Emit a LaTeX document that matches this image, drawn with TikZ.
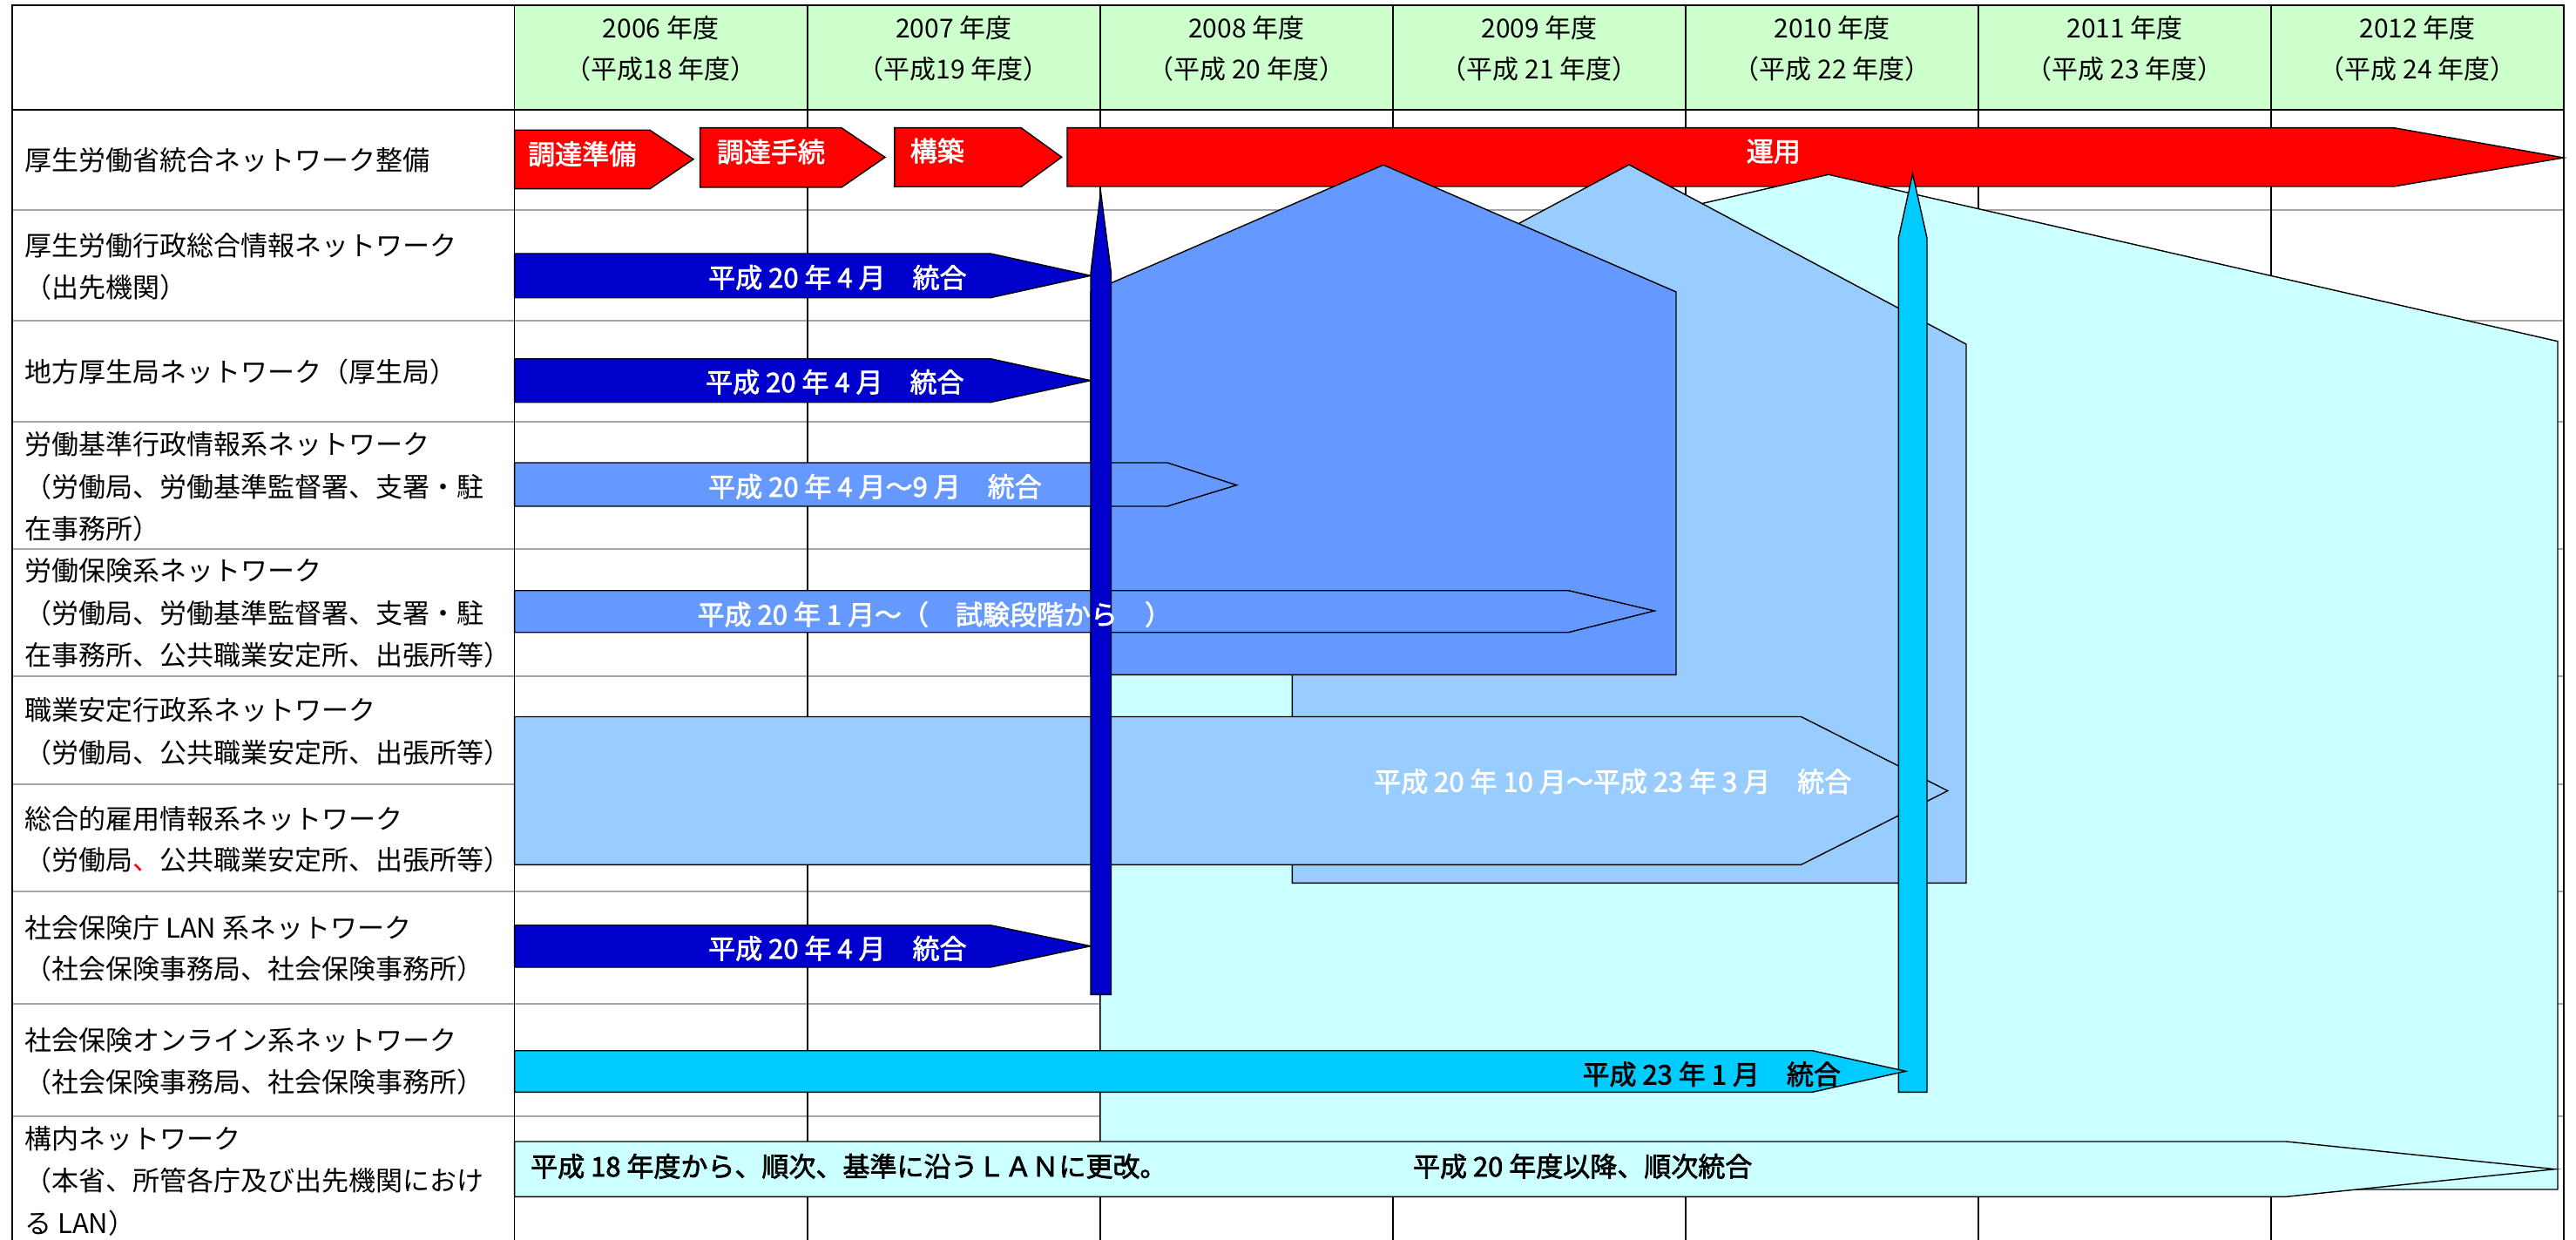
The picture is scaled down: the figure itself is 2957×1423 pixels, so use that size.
\documentclass[tikz,border=0pt]{standalone}
\usepackage{fontspec}
\newfontfamily\jp[AutoFakeBold=2.2]{Noto Sans CJK JP}
\definecolor{hdrgreen}{HTML}{CCFFCC}
\definecolor{dblue}{HTML}{0000CC}
\definecolor{mblue}{HTML}{6699FF}
\definecolor{lblue}{HTML}{99CCFF}
\definecolor{pcyan}{HTML}{CCFFFF}
\definecolor{bcyan}{HTML}{00CCFF}
\definecolor{rred}{HTML}{FF0000}
\tikzset{
  shp/.style={draw=black,line width=1.4pt,line join=miter},
  rowline/.style={draw=gray!70,line width=1.8pt},
  colline/.style={draw=black,line width=1.6pt},
  border/.style={draw=black,line width=2pt},
  lab/.style={font=\jp\fontsize{31}{31}\selectfont,anchor=west,inner sep=0pt,text height=27.3pt,text depth=3.7pt},
  hdr/.style={font=\jp\fontsize{30}{30}\selectfont,anchor=center,inner sep=0pt,text height=26.4pt,text depth=3.6pt},
  wlab/.style={font=\jp\bfseries\fontsize{31}{31}\selectfont,text=white,anchor=west,inner sep=0pt,text height=27.3pt,text depth=3.7pt},
  blab/.style={font=\jp\bfseries\fontsize{31}{31}\selectfont,text=black,anchor=west,inner sep=0pt,text height=27.3pt,text depth=3.7pt}
}
\begin{document}
\begin{tikzpicture}[x=1pt,y=-1pt]
\useasboundingbox (0,0) rectangle (2957,1423);
\fill[white] (0,0) rectangle (2957,1423);
% header
\fill[hdrgreen] (590.6,5.7) rectangle (2943,126);
% grid
\foreach \yy in {240.7,367.7,484.3,630,775.7,900,1022.7,1151.7,1281}
  \draw[rowline] (14,\yy) -- (2943,\yy);
\foreach \xx in {926.7,1262.8,1598.9,1935,2271,2607}
  \draw[colline] (\xx,5.7) -- (\xx,1423);
\draw[colline] (590.6,5.7) -- (590.6,1423);
\draw[border] (14,126) -- (2943,126);
\draw[border] (14,1423) -- (14,5.7) -- (2943,5.7) -- (2943,1423);
% red arrows
\draw[shp,fill=rred] (590.6,149.3) -- (746,149.3) -- (796,182.7) -- (746,216.7) -- (590.6,216.7) -- cycle;
\draw[shp,fill=rred] (803.6,146.7) -- (966,146.7) -- (1016,180.5) -- (966,215) -- (803.6,215) -- cycle;
\draw[shp,fill=rred] (1026.8,146.7) -- (1172.2,146.7) -- (1218.7,180.3) -- (1172.2,214.3) -- (1026.8,214.3) -- cycle;
\draw[shp,fill=rred] (1225,146.7) -- (2748,146.7) -- (2943,181) -- (2748,214) -- (1225,214) -- cycle;
% big background houses
\draw[shp,fill=pcyan] (1263,391.7) -- (2099,200.3) -- (2936,391.7) -- (2936,1365) -- (1263,1365) -- cycle;
\draw[shp,fill=lblue] (1483.4,395) -- (1870,189) -- (2257,395) -- (2257,1013.3) -- (1483.4,1013.3) -- cycle;
\draw[shp,fill=mblue] (1252,335) -- (1588,189.3) -- (1924,335) -- (1924,774.3) -- (1252,774.3) -- cycle;
% row arrows
\draw[shp,fill=dblue] (590.6,291) -- (1137,291) -- (1252,316.3) -- (1137,341.7) -- (590.6,341.7) -- cycle;
\draw[shp,fill=dblue] (590.6,411.7) -- (1137,411.7) -- (1252,436.7) -- (1137,461.7) -- (590.6,461.7) -- cycle;
\draw[shp,fill=mblue] (590.6,531) -- (1340,531) -- (1419.6,556.7) -- (1340,581) -- (590.6,581) -- cycle;
\draw[shp,fill=mblue] (590.6,677.7) -- (1800.4,677.7) -- (1899.2,701) -- (1800.4,725.7) -- (590.6,725.7) -- cycle;
\draw[shp,fill=lblue] (590.6,822.5) -- (2067.5,822.5) -- (2235.8,907.5) -- (2067.5,992.3) -- (590.6,992.3) -- cycle;
\draw[shp,fill=dblue] (590.6,1061.7) -- (1137,1061.7) -- (1252,1085.7) -- (1137,1110) -- (590.6,1110) -- cycle;
\draw[shp,fill=pcyan] (590.6,1310) -- (2624.4,1310) -- (2932.7,1341.7) -- (2624.4,1373.3) -- (590.6,1373.3) -- cycle;
% vertical bars
\draw[shp,fill=dblue] (1252,1141.3) -- (1252,313.3) -- (1263.5,220) -- (1275.5,313.3) -- (1275.5,1141.3) -- cycle;
\draw[shp,fill=bcyan] (2179.3,1253.3) -- (2179.3,273.3) -- (2195.5,199.3) -- (2212,273.3) -- (2212,1253.3) -- cycle;
\draw[shp,fill=bcyan] (590.6,1205.7) -- (2080.4,1205.7) -- (2187.6,1229.3) -- (2080.4,1253.3) -- (590.6,1253.3) -- cycle;
% header text
\node[hdr] (h1a) at (758.6,31.7) {2006 年度};
\node[hdr] (h1b) at (758.6,79) {（平成18 年度）};
\node[hdr] (h2a) at (1094.7,31.7) {2007 年度};
\node[hdr] (h2b) at (1094.7,79) {（平成19 年度）};
\node[hdr] (h3a) at (1430.8,31.7) {2008 年度};
\node[hdr] (h3b) at (1430.8,79) {（平成 20 年度）};
\node[hdr] (h4a) at (1767,31.7) {2009 年度};
\node[hdr] (h4b) at (1767,79) {（平成 21 年度）};
\node[hdr] (h5a) at (2103,31.7) {2010 年度};
\node[hdr] (h5b) at (2103,79) {（平成 22 年度）};
\node[hdr] (h6a) at (2439,31.7) {2011 年度};
\node[hdr] (h6b) at (2439,79) {（平成 23 年度）};
\node[hdr] (h7a) at (2775,31.7) {2012 年度};
\node[hdr] (h7b) at (2775,79) {（平成 24 年度）};
% row labels
\node[lab] (l1a) at (28,183.3) {厚生労働省統合ネットワーク整備};
\node[lab] (l2a) at (28,281.7) {厚生労働行政総合情報ネットワーク};
\node[lab] (l2b) at (28,329.3) {（出先機関）};
\node[lab] (l3a) at (28,426.7) {地方厚生局ネットワーク（厚生局）};
\node[lab] (l4a) at (28,510) {労働基準行政情報系ネットワーク};
\node[lab] (l4b) at (28,558.3) {（労働局、労働基準監督署、支署・駐};
\node[lab] (l4c) at (28,606.7) {在事務所）};
\node[lab] (l5a) at (28,655) {労働保険系ネットワーク};
\node[lab] (l5b) at (28,703.3) {（労働局、労働基準監督署、支署・駐};
\node[lab] (l5c) at (28,751.7) {在事務所、公共職業安定所、出張所等）};
\node[lab] (l6a) at (28,815) {職業安定行政系ネットワーク};
\node[lab] (l6b) at (28,863.3) {（労働局、公共職業安定所、出張所等）};
\node[lab] (l7a) at (28,940) {総合的雇用情報系ネットワーク};
\node[lab] (l7b) at (28,986.7) {（労働局{\color{red}、}公共職業安定所、出張所等）};
\node[lab] (l8a) at (28,1065) {社会保険庁 LAN 系ネットワーク};
\node[lab] (l8b) at (28,1111.7) {（社会保険事務局、社会保険事務所）};
\node[lab] (l9a) at (28,1193.3) {社会保険オンライン系ネットワーク};
\node[lab] (l9b) at (28,1241.7) {（社会保険事務局、社会保険事務所）};
\node[lab] (l10a) at (28,1306.7) {構内ネットワーク};
\node[lab] (l10b) at (28,1355) {（本省、所管各庁及び出先機関におけ};
\node[lab] (l10c) at (28,1403.3) {る LAN）};
% arrow labels
\node[wlab] (t1) at (606,176.7) {調達準備};
\node[wlab] (t2) at (822.7,174) {調達手続};
\node[wlab] (t3) at (1044.6,173) {構築};
\node[wlab] (t4) at (2004.6,173.3) {運用};
\node[wlab] (t5) at (813,318.3) {平成 20 年 4 月　統合};
\node[wlab] (t6) at (810,438.3) {平成 20 年 4 月　統合};
\node[wlab] (t7) at (813,558.3) {平成 20 年 4 月～9 月　統合};
\node[wlab] (t8) at (800.4,705) {平成 20 年 1 月～（　試験段階から　）};
\node[wlab] (t9) at (1577,896.7) {平成 20 年 10 月～平成 23 年 3 月　統合};
\node[wlab] (t10) at (813,1088.3) {平成 20 年 4 月　統合};
\node[blab] (t11) at (1816.3,1232.7) {平成 23 年 1 月　統合};
\node[blab] (t12) at (609,1338.3) {平成 18 年度から、順次、基準に沿うＬＡＮに更改。};
\node[blab] (t13) at (1621.8,1338.3) {平成 20 年度以降、順次統合};
\end{tikzpicture}
\end{document}
